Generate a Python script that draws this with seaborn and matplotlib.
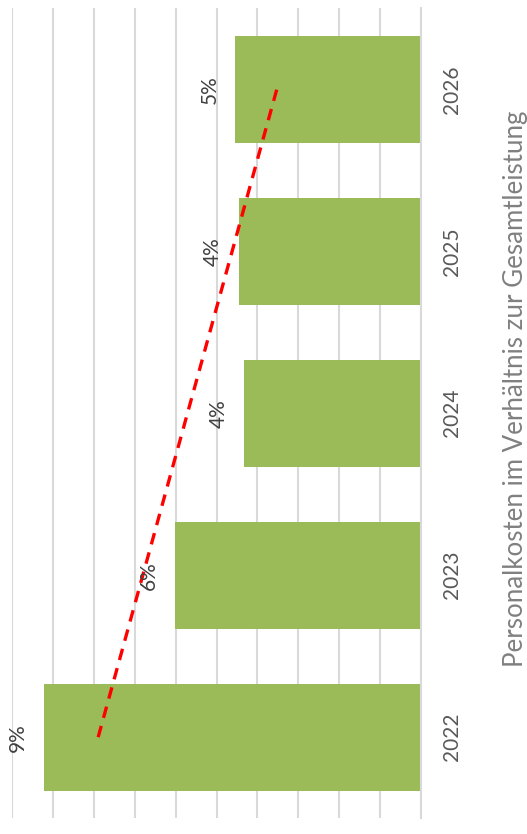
import numpy as np
import pandas as pd
import matplotlib
matplotlib.use("Agg")
import matplotlib.pyplot as plt
import seaborn as sns

# data
years = ["2022", "2023", "2024", "2025", "2026"]
values = [9.22, 6.02, 4.32, 4.46, 4.54]   # percent
title = "Personalkosten im Verhältnis zur Gesamtleistung"

sns.set_style("white")
plt.rcParams['font.family'] = ['Lato', 'DejaVu Sans']

df = pd.DataFrame({"year": years, "value": values})
order = years[::-1]   # 2026 on top

fig = plt.figure(figsize=(5.27, 8.34), dpi=100)
ax = fig.add_axes([0.023, 0.019, 0.776, 0.971])

sns.barplot(data=df, x="value", y="year", order=order, orient="h",
            color="#9BBB59", saturation=1, width=0.66, ax=ax,
            edgecolor="none")

ax.set_xticks(np.arange(0, 11, 1))
ax.tick_params(axis="x", length=0, labelbottom=False)
ax.grid(axis="x", color="#d9d9d9", linewidth=1.5)
ax.set_axisbelow(True)

# value labels
for v, yr in zip(values, years):
    pos = order.index(yr)
    ax.text(v + 0.63, pos, f"{round(v)}%", rotation=90, ha="center",
            va="center", fontsize=15, color="#404040")

# linear trendline
xi = np.arange(len(years))
k, d = np.polyfit(xi, values, 1)
ypos = [order.index(yr) for yr in years]
ax.plot(k * xi + d, ypos, color="red", linestyle=(0, (3.5, 2.5)), linewidth=2.4)

ax.set_xlim(10, 0)
ax.set_ylim(len(years) - 0.5, -0.5)

# year labels on the right
ax.yaxis.tick_right()
ax.tick_params(axis="y", length=0, pad=15, labelsize=15, labelcolor="#595959")
for lab in ax.get_yticklabels():
    lab.set_rotation(90)
    lab.set_va("center")
ax.yaxis.set_label_position("right")
ax.set_ylabel(title, rotation=90, fontsize=18.6, color="#808080")
ax.yaxis.set_label_coords(1.2, 0.53)
ax.set_xlabel("")

for s in ["left", "top", "bottom"]:
    ax.spines[s].set_visible(False)
ax.spines["right"].set_color("#d9d9d9")
ax.spines["right"].set_linewidth(1.5)

fig.savefig("out.png", dpi=100)
